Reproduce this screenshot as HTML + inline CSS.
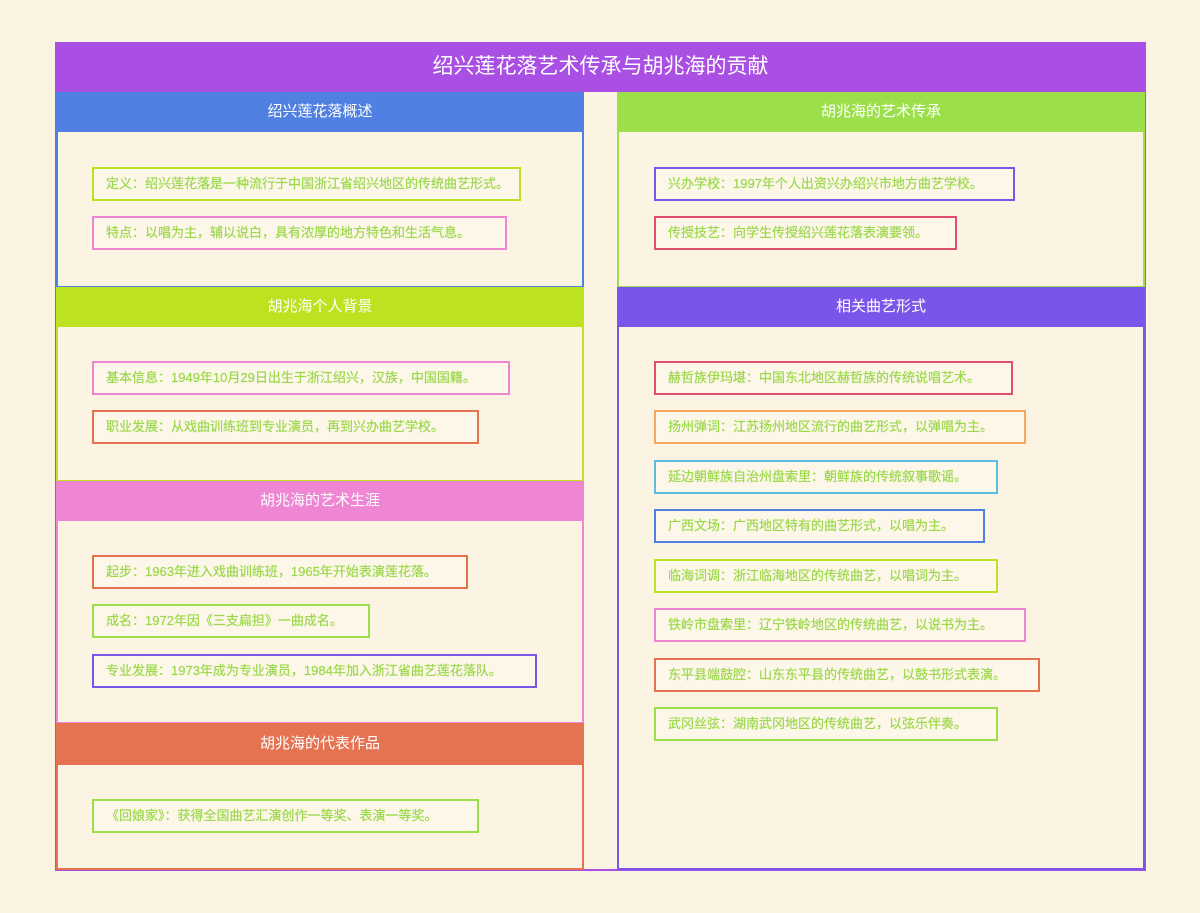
<!DOCTYPE html>
<html><head><meta charset="utf-8"><style>
*{margin:0;padding:0;box-sizing:border-box}
body{width:1200px;height:913px;background:#fcf4e3;position:relative;overflow:hidden;font-family:"Liberation Sans","Noto Sans CJK SC",sans-serif}
.a{position:absolute}
.frame{left:55px;top:42px;width:1091px;height:829px;border:2px solid #a94fe3}
.title{left:55px;top:42px;width:1091px;height:50px;background:#a94fe3;color:#fff;font-size:21px;text-align:center;line-height:50px}
.sec{border:2px solid}
.hd{color:#fff;font-size:15px;text-align:center;line-height:40px;height:40px}
.it{height:34px;border:2px solid;color:#9bd84a;font-size:13px;line-height:30px;padding-left:12px;white-space:nowrap;background:rgba(253,248,236,0.6);-webkit-text-stroke:0.2px #9bd84a}
</style></head><body>
<div class="a frame"></div>
<div class="a title">绍兴莲花落艺术传承与胡兆海的贡献</div>

<div class="a sec" style="left:56px;top:92px;width:528px;height:196px;border-color:#4f80e2"></div>
<div class="a hd" style="left:56px;top:92px;width:528px;background:#4f80e2">绍兴莲花落概述</div>
<div class="a sec" style="left:56px;top:287px;width:528px;height:195px;border-color:#bde21f"></div>
<div class="a hd" style="left:56px;top:287px;width:528px;background:#bde21f">胡兆海个人背景</div>
<div class="a sec" style="left:56px;top:481px;width:528px;height:243px;border-color:#ee86d4"></div>
<div class="a hd" style="left:56px;top:481px;width:528px;background:#ee86d4">胡兆海的艺术生涯</div>
<div class="a sec" style="left:56px;top:723px;width:528px;height:147px;border-color:#e57352"></div>
<div class="a hd" style="left:56px;top:724px;width:528px;height:41px;background:#e57352">胡兆海的代表作品</div>

<div class="a sec" style="left:617px;top:92px;width:528px;height:196px;border-color:#9be04b"></div>
<div class="a hd" style="left:617px;top:92px;width:528px;background:#9be04b">胡兆海的艺术传承</div>
<div class="a sec" style="left:617px;top:287px;width:528px;height:583px;border-color:#7b55ea"></div>
<div class="a hd" style="left:617px;top:287px;width:528px;background:#7b55ea">相关曲艺形式</div>

<div class="a it" style="left:92px;top:167px;width:429px;border-color:#bde21f">定义：绍兴莲花落是一种流行于中国浙江省绍兴地区的传统曲艺形式。</div>
<div class="a it" style="left:92px;top:216px;width:415px;border-color:#ee86d4">特点：以唱为主，辅以说白，具有浓厚的地方特色和生活气息。</div>
<div class="a it" style="left:92px;top:361px;width:418px;border-color:#ee86d4">基本信息：1949年10月29日出生于浙江绍兴，汉族，中国国籍。</div>
<div class="a it" style="left:92px;top:410px;width:387px;border-color:#e57352">职业发展：从戏曲训练班到专业演员，再到兴办曲艺学校。</div>
<div class="a it" style="left:92px;top:555px;width:376px;border-color:#e57352">起步：1963年进入戏曲训练班，1965年开始表演莲花落。</div>
<div class="a it" style="left:92px;top:604px;width:278px;border-color:#9be04b">成名：1972年因《三支扁担》一曲成名。</div>
<div class="a it" style="left:92px;top:654px;width:445px;border-color:#7b55ea">专业发展：1973年成为专业演员，1984年加入浙江省曲艺莲花落队。</div>
<div class="a it" style="left:92px;top:799px;width:387px;border-color:#9be04b">《回娘家》：获得全国曲艺汇演创作一等奖、表演一等奖。</div>

<div class="a it" style="left:654px;top:167px;width:361px;border-color:#7b55ea">兴办学校：1997年个人出资兴办绍兴市地方曲艺学校。</div>
<div class="a it" style="left:654px;top:216px;width:303px;border-color:#e0506e">传授技艺：向学生传授绍兴莲花落表演要领。</div>
<div class="a it" style="left:654px;top:361px;width:359px;border-color:#e0506e">赫哲族伊玛堪：中国东北地区赫哲族的传统说唱艺术。</div>
<div class="a it" style="left:654px;top:410px;width:372px;border-color:#f5a860">扬州弹词：江苏扬州地区流行的曲艺形式，以弹唱为主。</div>
<div class="a it" style="left:654px;top:460px;width:344px;border-color:#5bbde0">延边朝鲜族自治州盘索里：朝鲜族的传统叙事歌谣。</div>
<div class="a it" style="left:654px;top:509px;width:331px;border-color:#4f80e2">广西文场：广西地区特有的曲艺形式，以唱为主。</div>
<div class="a it" style="left:654px;top:559px;width:344px;border-color:#bde21f">临海词调：浙江临海地区的传统曲艺，以唱词为主。</div>
<div class="a it" style="left:654px;top:608px;width:372px;border-color:#ee86d4">铁岭市盘索里：辽宁铁岭地区的传统曲艺，以说书为主。</div>
<div class="a it" style="left:654px;top:658px;width:386px;border-color:#e57352">东平县端鼓腔：山东东平县的传统曲艺，以鼓书形式表演。</div>
<div class="a it" style="left:654px;top:707px;width:344px;border-color:#9be04b">武冈丝弦：湖南武冈地区的传统曲艺，以弦乐伴奏。</div>
</body></html>
